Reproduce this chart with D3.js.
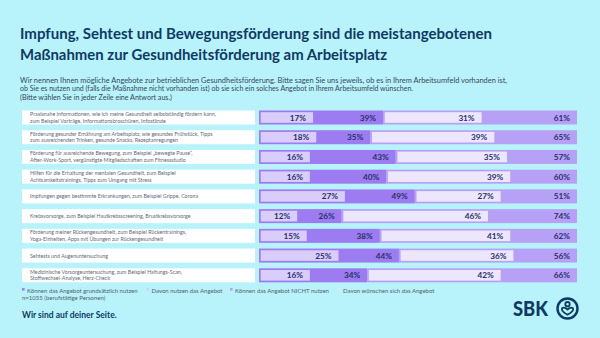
<!DOCTYPE html>
<html>
<head>
<meta charset="utf-8">
<script src="https://cdn.jsdelivr.net/npm/d3@7"></script>
<style>
  html, body { margin: 0; padding: 0; background: #b8f3fb; }
  svg { display: block; font-family: Lato, "Open Sans", sans-serif; }
</style>
</head>
<body>
<div id="chart"></div>
<script>
// chart data
var labels = [
  ["Praxisnahe Informationen, wie ich meine Gesundheit selbstständig fördern kann,", "zum Beispiel Vorträge, Informationsbroschüren, Infostände"],
  ["Förderung gesunder Ernährung am Arbeitsplatz, wie gesundes Frühstück, Tipps", "zum ausreichenden Trinken, gesunde Snacks, Rezeptanregungen"],
  ["Förderung für ausreichende Bewegung, zum Beispiel „bewegte Pause“,", "After-Work-Sport, vergünstigte Mitgliedschaften zum Fitnessstudio"],
  ["Hilfen für die Erhaltung der mentalen Gesundheit, zum Beispiel", "Achtsamkeitstrainings, Tipps zum Umgang mit Stress"],
  ["Impfungen gegen bestimmte Erkrankungen, zum Beispiel Grippe, Corona"],
  ["Krebsvorsorge, zum Beispiel Hautkrebsscreening, Brustkrebsvorsorge"],
  ["Förderung meiner Rückengesundheit, zum Beispiel Rückentrainings,", "Yoga-Einheiten, Apps mit Übungen zur Rückengesundheit"],
  ["Sehtests und Augenuntersuchung"],
  ["Medizinische Vorsorgeuntersuchung, zum Beispiel Haltungs-Scan,", "Stoffwechsel-Analyse, Herz-Check"]
];
var koennenNutzen  = [39, 35, 43, 40, 49, 26, 38, 44, 34];
var davonNutzen    = [17, 18, 16, 16, 27, 12, 15, 25, 16];
var koennenNicht   = [61, 65, 57, 60, 51, 74, 62, 56, 66];
var davonWuenschen = [31, 39, 35, 39, 27, 46, 41, 36, 42];
var legendNames = ["Können das Angebot grundsätzlich nutzen", "Davon nutzen das Angebot",
                   "Können das Angebot NICHT nutzen", "Davon wünschen sich das Angebot"];

var width = 600, height = 338;
var navy = "#0f3a64", labelNavy = "#27306a";
var colNutzen = "#9d7cf1", colDavon = "#d9cdfb", colNicht = "#b7a1f6", colWunsch = "#ede7fd";

var svg = d3.select("#chart").append("svg")
    .attr("width", width)
    .attr("height", height);

svg.append("rect").attr("width", width).attr("height", height).attr("fill", "#b8f3fb");

// title
var title = ["Impfung, Sehtest und Bewegungsförderung sind die meistangebotenen",
             "Maßnahmen zur Gesundheitsförderung am Arbeitsplatz"];
svg.selectAll(".title").data(title).enter().append("text")
    .attr("class", "title")
    .attr("x", 20)
    .attr("y", function(d, i) { return 39 + i * 21; })
    .attr("fill", navy)
    .attr("font-size", 15.5)
    .attr("font-weight", 700)
    .attr("textLength", function(d, i) { return i == 0 ? 472 : 367; })
    .attr("lengthAdjust", "spacingAndGlyphs")
    .text(function(d) { return d; });

var sub = ["Wir nennen Ihnen mögliche Angebote zur betrieblichen Gesundheitsförderung. Bitte sagen Sie uns jeweils, ob es in Ihrem Arbeitsumfeld vorhanden ist,",
           "ob Sie es nutzen und (falls die Maßnahme nicht vorhanden ist) ob sie sich ein solches Angebot in Ihrem Arbeitsumfeld wünschen.",
           "(Bitte wählen Sie in jeder Zeile eine Antwort aus.)"];
svg.selectAll(".sub").data(sub).enter().append("text")
    .attr("class", "sub")
    .attr("x", 20)
    .attr("y", function(d, i) { return 82.5 + i * 8.8; })
    .attr("fill", "#35475a")
    .attr("font-size", 6.6)
    .attr("textLength", function(d, i) { return [487, 393, 152][i]; })
    .attr("lengthAdjust", "spacingAndGlyphs")
    .text(function(d) { return d; });

// scales
var x = d3.scaleLinear().domain([0, 100]).range([259, 577]);
var y = d3.scaleBand().domain(d3.range(labels.length)).range([110.5, 282.3]).paddingInner(0.29);
var bh = y.bandwidth();

var rows = svg.selectAll(".row").data(labels).enter().append("g")
    .attr("class", "row")
    .attr("transform", function(d, i) { return "translate(0," + y(i) + ")"; });

rows.append("rect")
    .attr("x", 22).attr("width", 233).attr("height", bh)
    .attr("fill", "#ffffff");

rows.each(function(d) {
  var g = d3.select(this);
  var off = d.length == 1 ? [bh / 2 + 2] : [bh / 2 - 1.5, bh / 2 + 5];
  d.forEach(function(line, j) {
    g.append("text")
      .attr("x", 30).attr("y", off[j])
      .attr("font-size", 5.3)
      .attr("fill", "#5f6a76")
      .text(line);
  });
});

// bars
rows.append("rect")
    .attr("x", x(0))
    .attr("height", bh)
    .attr("width", function(d, i) { return x(koennenNutzen[i]) - x(0); })
    .attr("fill", colNutzen);
rows.append("rect")
    .attr("x", function(d, i) { return x(koennenNutzen[i]); })
    .attr("height", bh)
    .attr("width", function(d, i) { return x(100) - x(koennenNutzen[i]); })
    .attr("fill", colNicht);
rows.append("rect")
    .attr("x", x(0) + 1.7)
    .attr("y", 1.7)
    .attr("height", bh - 3.4)
    .attr("width", function(d, i) { return x(davonNutzen[i]) - x(0) - 1.7; })
    .attr("fill", colDavon);
rows.append("rect")
    .attr("x", function(d, i) { return x(koennenNutzen[i]) + 1.7; })
    .attr("y", 1.7)
    .attr("height", bh - 3.4)
    .attr("width", function(d, i) { return x(koennenNutzen[i] + davonWuenschen[i]) - x(koennenNutzen[i]) - 1.7; })
    .attr("fill", colWunsch);

function valueLabel(getEnd, getVal) {
  rows.append("text")
    .attr("x", function(d, i) { return getEnd(i) - 7; })
    .attr("y", bh / 2 + 3)
    .attr("text-anchor", "end")
    .attr("font-size", 8.2)
    .attr("font-weight", 700)
    .attr("fill", labelNavy)
    .text(function(d, i) { return getVal(i) + "%"; });
}
valueLabel(function(i) { return x(davonNutzen[i]); }, function(i) { return davonNutzen[i]; });
valueLabel(function(i) { return x(koennenNutzen[i]); }, function(i) { return koennenNutzen[i]; });
valueLabel(function(i) { return x(koennenNutzen[i] + davonWuenschen[i]); }, function(i) { return davonWuenschen[i]; });
valueLabel(function(i) { return x(100); }, function(i) { return koennenNicht[i]; });

// legend
var legX = [22, 146.5, 230, 338];
var legCol = [colNutzen, colDavon, colNicht, colWunsch];
var leg = svg.selectAll(".leg").data(legendNames).enter().append("g")
    .attr("class", "leg")
    .attr("transform", function(d, i) { return "translate(" + legX[i] + ",291)"; });
leg.append("rect").attr("x", 0).attr("y", -3).attr("width", 2.6).attr("height", 2.6)
    .attr("fill", function(d, i) { return legCol[i]; });
leg.append("text").attr("x", 5).attr("y", 1.8)
    .attr("font-size", 6).attr("fill", "#55606c")
    .text(function(d) { return d; });

svg.append("text").attr("x", 22).attr("y", 299.5)
    .attr("font-size", 6).attr("fill", "#55606c")
    .text("n=1055 (berufstätige Personen)");

svg.append("text").attr("x", 22).attr("y", 318)
    .attr("font-size", 8.5).attr("font-weight", 700).attr("fill", navy)
    .text("Wir sind auf deiner Seite.");

// logo
svg.append("text").attr("x", 513).attr("y", 316)
    .attr("font-size", 21).attr("font-weight", 900).attr("fill", navy)
    .attr("textLength", 35).attr("lengthAdjust", "spacingAndGlyphs")
    .text("SBK");
var logo = svg.append("g").attr("transform", "translate(567.5,308.5)");
logo.append("circle").attr("r", 10).attr("fill", "none").attr("stroke", navy).attr("stroke-width", 2.4);
logo.append("circle").attr("cy", -4.3).attr("r", 2.2).attr("fill", "none").attr("stroke", navy).attr("stroke-width", 1.8);
logo.append("path")
    .attr("d", "M-5.5,-0.2 C-3.5,-1.8 -1.5,-0.5 0,1 C1.5,-0.5 3.5,-1.8 5.5,-0.2 C6.5,2 3,4.5 0,6.2 C-3,4.5 -6.5,2 -5.5,-0.2 Z")
    .attr("fill", "none").attr("stroke", navy).attr("stroke-width", 1.8).attr("stroke-linejoin", "round");
</script>
</body>
</html>
